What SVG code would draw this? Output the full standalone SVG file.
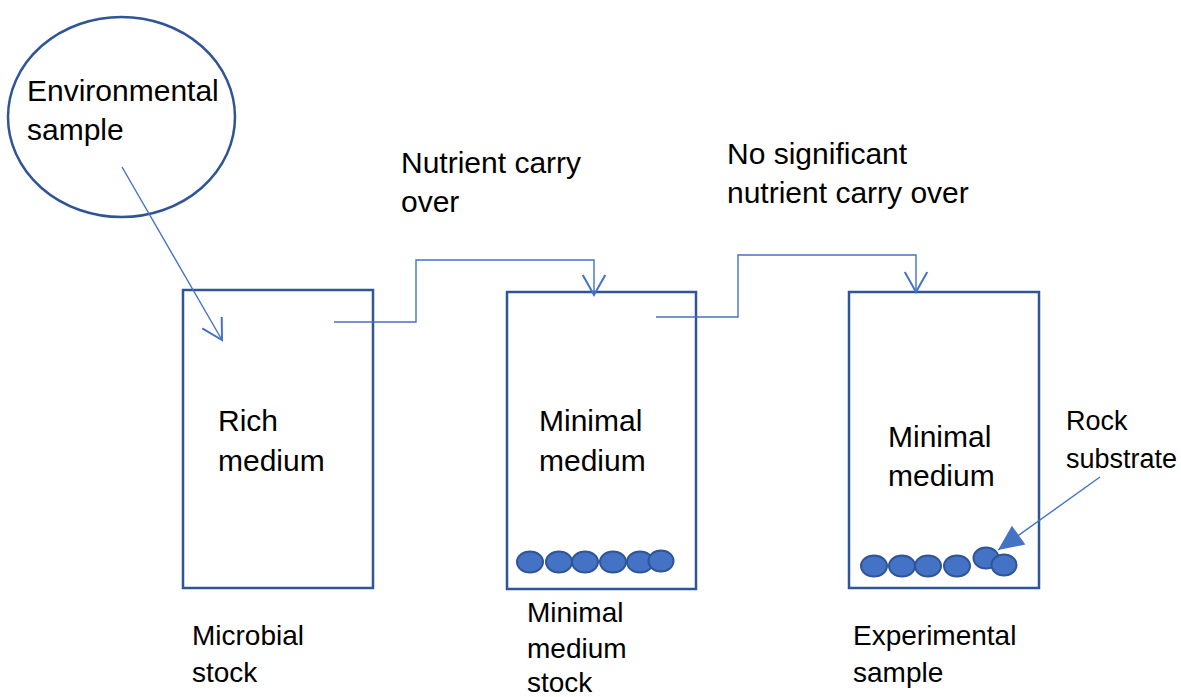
<svg xmlns="http://www.w3.org/2000/svg" width="1181" height="697" viewBox="0 0 1181 697">
<style>
.box{fill:#fff;stroke:#2F5597;stroke-width:2.5}
.conn{fill:none;stroke:#4472C4;stroke-width:1.4}
.dot{fill:#4472C4;stroke:#2F5597;stroke-width:2}
.t{font-family:"Liberation Sans",Arial,sans-serif;font-size:30px;fill:#000}
.s{font-family:"Liberation Sans",Arial,sans-serif;font-size:28px;fill:#000}
.r{font-family:"Liberation Sans",Arial,sans-serif;font-size:27px;fill:#000}
</style>
<defs>
<marker id="open" markerUnits="userSpaceOnUse" markerWidth="30" markerHeight="30" viewBox="-20 -12 24 24" refX="0" refY="0" orient="auto">
<path d="M-16,-9 L0,0 L-16,9" fill="none" stroke="#4472C4" stroke-width="1.6"/>
</marker>
<marker id="solid" markerUnits="userSpaceOnUse" markerWidth="30" markerHeight="30" viewBox="-24 -13 26 26" refX="0" refY="0" orient="auto">
<path d="M-22,-10 L0,0 L-22,10 Z" fill="#4472C4"/>
</marker>
</defs>
<rect width="1181" height="697" fill="#fff"/>
<g id="env-sample">
<ellipse cx="121.5" cy="117" rx="113.5" ry="100" fill="none" stroke="#2F5597" stroke-width="2.5"/>
<text class="t" x="27" y="101">Environmental</text>
<text class="t" x="27" y="140">sample</text>
</g>
<g id="microbial-stock">
<rect class="box" x="183" y="290" width="190" height="298"/>
<text class="t" x="218" y="431">Rich</text>
<text class="t" x="218" y="471">medium</text>
<text class="s" x="192" y="645">Microbial</text>
<text class="s" x="192" y="682">stock</text>
</g>
<g id="minimal-medium-stock">
<rect class="box" x="507" y="292" width="189" height="297"/>
<text class="t" x="539" y="431">Minimal</text>
<text class="t" x="539" y="471">medium</text>
<ellipse class="dot" cx="530" cy="562" rx="13" ry="10.5"/>
<ellipse class="dot" cx="559" cy="562" rx="13" ry="10.5"/>
<ellipse class="dot" cx="585" cy="562" rx="13" ry="10.5"/>
<ellipse class="dot" cx="613" cy="562" rx="13" ry="10.5"/>
<ellipse class="dot" cx="640" cy="562" rx="13" ry="10.5"/>
<ellipse class="dot" cx="661" cy="561" rx="12.5" ry="10.5"/>
<text class="s" x="527" y="622">Minimal</text>
<text class="s" x="527" y="658">medium</text>
<text class="s" x="527" y="692">stock</text>
</g>
<g id="experimental-sample">
<rect class="box" x="849" y="292" width="190" height="296"/>
<text class="t" x="888" y="447">Minimal</text>
<text class="t" x="888" y="486">medium</text>
<ellipse class="dot" cx="874" cy="566" rx="13" ry="10.5"/>
<ellipse class="dot" cx="902" cy="566" rx="13" ry="10.5"/>
<ellipse class="dot" cx="928" cy="566" rx="13" ry="10.5"/>
<ellipse class="dot" cx="957" cy="566" rx="13" ry="10.5"/>
<ellipse class="dot" cx="986" cy="558" rx="12.5" ry="10.5"/>
<ellipse class="dot" cx="1004" cy="565" rx="12.5" ry="10.5"/>
<text class="s" x="853" y="645">Experimental</text>
<text class="s" x="853" y="682">sample</text>
</g>
<g id="rock-label">
<text class="r" x="1066" y="430">Rock</text>
<text class="r" x="1066" y="468">substrate</text>
</g>
<g id="labels">
<text class="t" x="401" y="173">Nutrient carry</text>
<text class="t" x="401" y="212">over</text>
<text class="t" x="727" y="164">No significant</text>
<text class="t" x="727" y="203">nutrient carry over</text>
</g>
<g id="connectors">
<path class="conn" d="M122,167 L222,340" marker-end="url(#open)"/>
<path class="conn" d="M334,322 H416 V260 H594 V295" marker-end="url(#open)"/>
<path class="conn" d="M656,317 H738 V255 H916 V292" marker-end="url(#open)"/>
<path class="conn" d="M1100,477 L998,550" marker-end="url(#solid)"/>
</g>
</svg>
